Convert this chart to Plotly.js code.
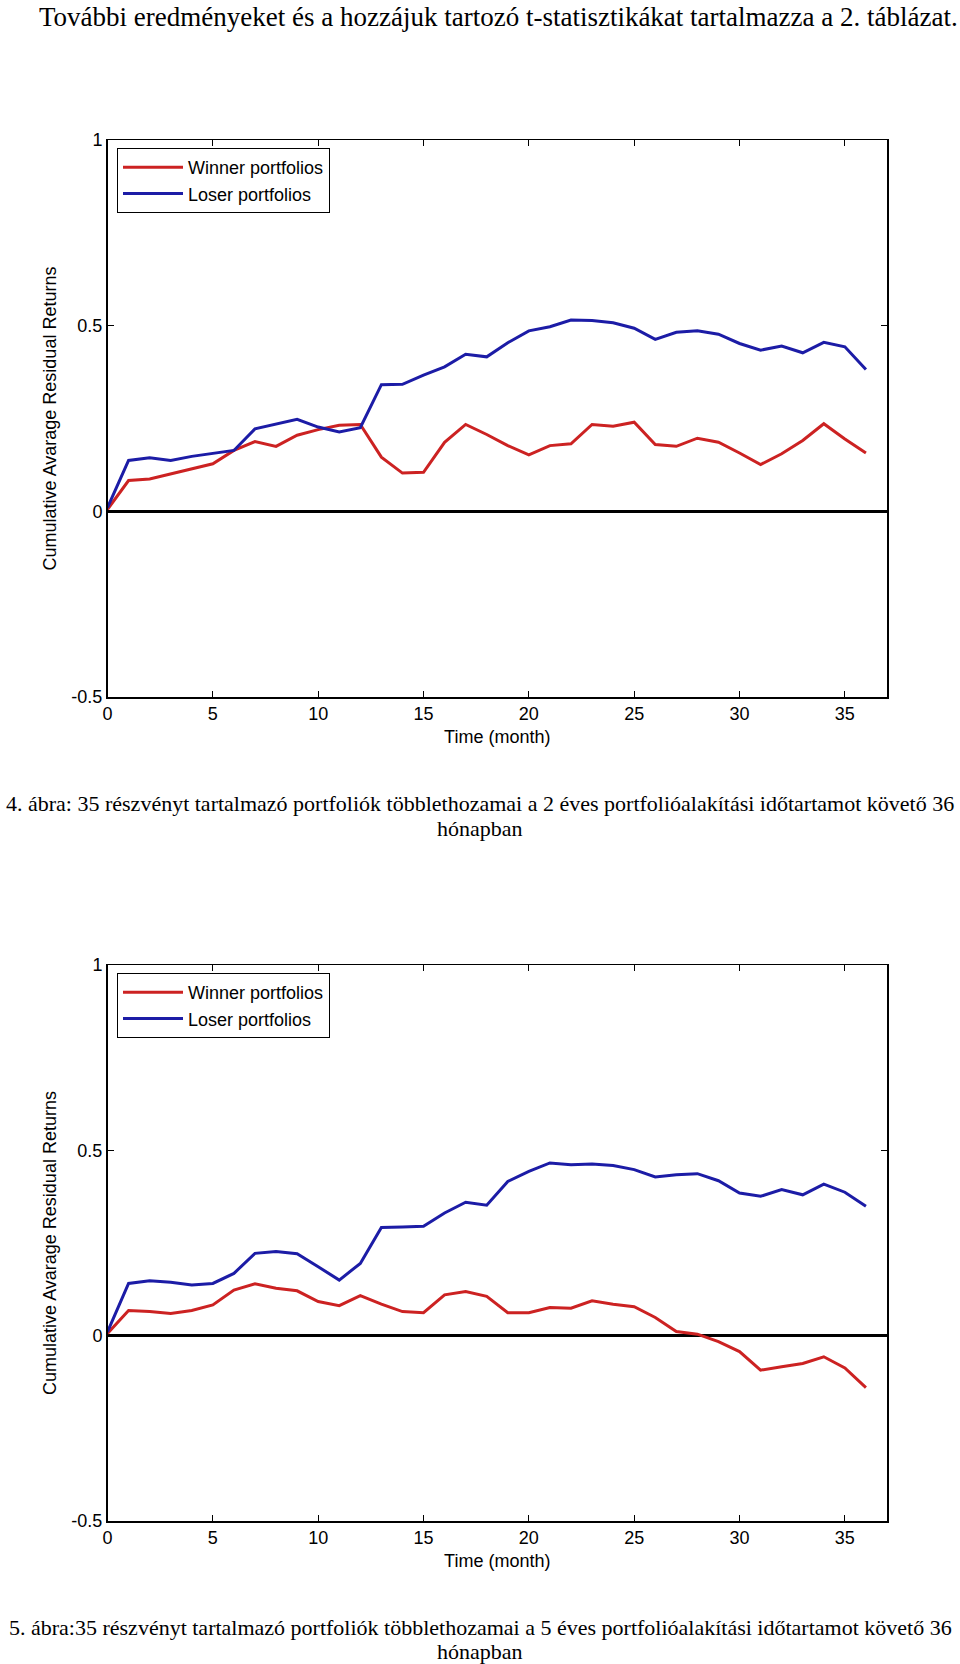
<!DOCTYPE html>
<html>
<head>
<meta charset="utf-8">
<script src="https://cdn.plot.ly/plotly-3.0.1.min.js"></script>
<style>
  html, body { margin: 0; padding: 0; background: #fff; }
  #chart { width: 960px; height: 1664px; }
</style>
</head>
<body>
<div id="chart"></div>
<script>
// ---- Data ----
const months = [0,1,2,3,4,5,6,7,8,9,10,11,12,13,14,15,16,17,18,19,20,21,22,23,24,25,26,27,28,29,30,31,32,33,34,35,36];

// Figure 4: 2-year formation period
const winner2 = [0.005,0.083,0.087,0.100,0.114,0.128,0.164,0.188,0.175,0.205,0.220,0.232,0.234,0.146,0.103,0.105,0.186,0.234,0.207,0.177,0.152,0.177,0.182,0.234,0.229,0.240,0.180,0.175,0.197,0.186,0.157,0.126,0.155,0.191,0.236,0.195,0.157];
const loser2  = [0.010,0.137,0.144,0.137,0.148,0.155,0.164,0.222,0.236,0.248,0.227,0.214,0.225,0.341,0.342,0.367,0.389,0.423,0.416,0.454,0.486,0.497,0.515,0.514,0.508,0.493,0.463,0.482,0.486,0.477,0.452,0.434,0.445,0.427,0.455,0.443,0.382];

// Figure 5: 5-year formation period
const winner5 = [0.006,0.068,0.065,0.060,0.068,0.083,0.123,0.140,0.128,0.121,0.092,0.081,0.108,0.085,0.065,0.062,0.110,0.119,0.106,0.062,0.062,0.076,0.074,0.094,0.085,0.078,0.049,0.011,0.004,-0.016,-0.043,-0.093,-0.084,-0.075,-0.057,-0.087,-0.140];
const loser5  = [0.010,0.141,0.148,0.144,0.137,0.141,0.168,0.222,0.227,0.221,0.186,0.150,0.195,0.292,0.293,0.295,0.331,0.360,0.352,0.416,0.443,0.466,0.461,0.463,0.459,0.448,0.428,0.434,0.437,0.418,0.385,0.376,0.394,0.380,0.409,0.387,0.349];

const seriesNames = ["Winner portfolios", "Loser portfolios"];
const yTickVals = [-0.5, 0, 0.5, 1];
const yTickText = ["-0.5", "0", "0.5", "1"];
const xTickVals = [0,5,10,15,20,25,30,35];
const xTickText = ["0","5","10","15","20","25","30","35"];

const introText = "További eredményeket és a hozzájuk tartozó t-statisztikákat tartalmazza a 2. táblázat.";
const caption4 = ["4. ábra: 35 részvényt tartalmazó portfoliók többlethozamai a 2 éves portfolióalakítási időtartamot követő 36", "hónapban"];
const caption5 = ["5. ábra:35 részvényt tartalmazó portfoliók többlethozamai a 5 éves portfolióalakítási időtartamot követő 36", "hónapban"];
const xTitle = "Time (month)";
const yTitle = "Cumulative Avarage Residual Returns";

// ---- Styling ----
const W = 960, H = 1664;
const RED = "#cc2222", BLUE = "#1c1ca6";
const sans = "Liberation Sans, Arial, sans-serif";
const tickFont = {family: sans, size: 18, color: "#000"};
const serif = "Liberation Serif, Times New Roman, serif";
const py = px => 1 - px / H;

function axisX(anchor) {
  return {
    anchor: anchor, domain: [107.5/W, 887/W], range: [0, 37],
    tickvals: xTickVals, ticktext: xTickText, ticks: "inside", ticklen: 6,
    tickcolor: "#000", linecolor: "#000", linewidth: 1.5, mirror: "ticks",
    showgrid: false, zeroline: false, tickfont: tickFont,
    title: {text: xTitle, font: {family: sans, size: 18, color: "#000"}, standoff: 7}
  };
}
function axisY(anchor, top, bottom) {
  return {
    anchor: anchor, domain: [py(bottom), py(top)], range: [-0.5, 1],
    tickvals: yTickVals, ticktext: yTickText, ticks: "inside", ticklen: 6,
    tickcolor: "#000", linecolor: "#000", linewidth: 1.5, mirror: "ticks",
    showgrid: false, zeroline: true, zerolinecolor: "#000", zerolinewidth: 2.5,
    tickfont: tickFont,
    title: {text: yTitle, font: {family: sans, size: 18, color: "#000"}, standoff: 10}
  };
}

const traces = [
  {x: months, y: winner2, name: seriesNames[0], type: "scatter", mode: "lines", line: {color: RED, width: 3}, xaxis: "x", yaxis: "y", legend: "legend"},
  {x: months, y: loser2,  name: seriesNames[1], type: "scatter", mode: "lines", line: {color: BLUE, width: 3}, xaxis: "x", yaxis: "y", legend: "legend"},
  {x: months, y: winner5, name: seriesNames[0], type: "scatter", mode: "lines", line: {color: RED, width: 3}, xaxis: "x2", yaxis: "y2", legend: "legend2"},
  {x: months, y: loser5,  name: seriesNames[1], type: "scatter", mode: "lines", line: {color: BLUE, width: 3}, xaxis: "x2", yaxis: "y2", legend: "legend2"}
];

const legendBase = {
  bgcolor: "#fff", bordercolor: "#000", borderwidth: 1,
  font: {family: sans, size: 18, color: "#000"},
  xanchor: "left", yanchor: "top", tracegroupgap: 0, itemwidth: 60
};

const layout = {
  width: W, height: H,
  margin: {l: 0, r: 0, t: 0, b: 0},
  paper_bgcolor: "#fff", plot_bgcolor: "#fff",
  showlegend: true,
  xaxis: axisX("y"),
  yaxis: axisY("x", 140, 697),
  xaxis2: axisX("y2"),
  yaxis2: axisY("x2", 965, 1521),
  legend: Object.assign({}, legendBase, {x: 117/W, y: py(148)}),
  legend2: Object.assign({}, legendBase, {x: 117/W, y: py(973)}),
  annotations: [
    {text: introText, xref: "paper", yref: "paper", x: 37/W, y: py(17), xanchor: "left", yanchor: "middle", showarrow: false, font: {family: serif, size: 27, color: "#000"}},
    {text: caption4[0], xref: "paper", yref: "paper", x: 0.5, y: py(804), xanchor: "center", yanchor: "middle", showarrow: false, font: {family: serif, size: 22, color: "#000"}},
    {text: caption4[1], xref: "paper", yref: "paper", x: 0.5, y: py(828), xanchor: "center", yanchor: "middle", showarrow: false, font: {family: serif, size: 22, color: "#000"}},
    {text: caption5[0], xref: "paper", yref: "paper", x: 0.5, y: py(1627), xanchor: "center", yanchor: "middle", showarrow: false, font: {family: serif, size: 22, color: "#000"}},
    {text: caption5[1], xref: "paper", yref: "paper", x: 0.5, y: py(1651), xanchor: "center", yanchor: "middle", showarrow: false, font: {family: serif, size: 22, color: "#000"}}
  ]
};

Plotly.newPlot("chart", traces, layout, {staticPlot: true, displayModeBar: false});
</script>
</body>
</html>
